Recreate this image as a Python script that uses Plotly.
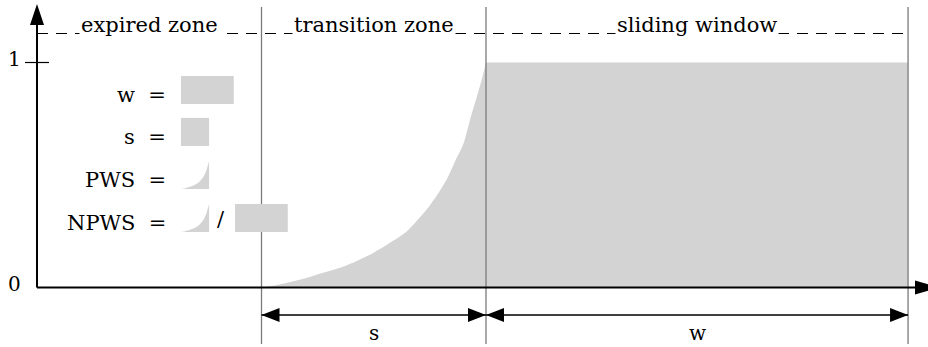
import plotly.graph_objects as go

# zones along the time axis (x unit = width of the transition zone)
zone_labels = ["expired zone", "transition zone", "sliding window"]
zone_edges = [0.0, 1.0, 2.0, 3.88]

# weight curve in the transition zone (u: 0..1 across zone)
curve_u = [0.0, 0.06, 0.12, 0.2, 0.27, 0.35, 0.42, 0.5, 0.56, 0.64, 0.71,
           0.75, 0.79, 0.83, 0.86, 0.9, 0.93, 0.96, 0.98, 1.0]
curve_v = [0.0, 0.009, 0.022, 0.042, 0.064, 0.088, 0.116, 0.155, 0.191, 0.243, 0.317,
           0.365, 0.422, 0.49, 0.556, 0.64, 0.75, 0.85, 0.92, 1.0]

y_ticks = [0, 1]
y_tick_text = ["0", "1"]

dim_labels = ["s", "w"]
formula_labels = ["w =", "s =", "PWS =", "NPWS ="]

W, H = 928, 347
X0PX, PXX = 37, 224.5     # pixel of x=0, pixels per x unit
Y0PX, PXY = 287.5, 225    # pixel of y=0, pixels per y unit


def dx(px):
    return (px - X0PX) / PXX


def dy(py):
    return (Y0PX - py) / PXY


GRAY = "#d3d3d3"
FONT = "DejaVu Serif"

t1, t2, t3 = zone_edges[1], zone_edges[2], zone_edges[3]
cx = [t1 + u * (t2 - t1) for u in curve_u]

fig = go.Figure()
fig.add_trace(go.Scatter(x=cx, y=curve_v, mode="lines",
                         line=dict(width=0, shape="spline", smoothing=0.7),
                         fill="tozeroy", fillcolor=GRAY, hoverinfo="skip"))
fig.add_trace(go.Scatter(x=[t2, t3], y=[1, 1], mode="lines", line=dict(width=0),
                         fill="tozeroy", fillcolor=GRAY, hoverinfo="skip"))

shapes = []


def line(x0, y0, x1, y1, color="black", width=1.5, dash=None):
    shapes.append(dict(type="line", xref="x", yref="y", x0=x0, y0=y0, x1=x1, y1=y1,
                       line=dict(color=color, width=width, dash=dash), layer="above"))


def poly(pts, color):
    p = "M " + " L ".join(f"{a},{b}" for a, b in pts) + " Z"
    shapes.append(dict(type="path", xref="x", yref="y", path=p, fillcolor=color,
                       line=dict(width=0), layer="above"))


# zone boundaries
for e in zone_edges[1:]:
    line(e, dy(7), e, dy(344), color="#7a7a7a", width=1.3)

# dashed top line
line(0, dy(33.5), t3, dy(33.5), width=1, dash="11px,8px")

# axes with arrow heads
line(0, 0, dx(917), 0, width=2)
poly([(dx(915), dy(280.5)), (dx(940), 0), (dx(915), dy(294.5))], "black")
line(0, 0, 0, dy(24), width=2)
poly([(dx(30), dy(25)), (0, dy(4)), (dx(44), dy(25))], "black")
line(dx(25), 1, dx(49), 1, width=1.2)

# dimension arrows s and w
ya = dy(315)
line(t1, ya, t3, ya, width=1.4)
ah, aw = 18 / PXX, 7 / PXY
for a, b in [(t1, t2), (t2, t3)]:
    poly([(a, ya), (a + ah, ya + aw), (a + ah, ya - aw)], "black")
    poly([(b, ya), (b - ah, ya + aw), (b - ah, ya - aw)], "black")

# small icons, 1/8 scale of the chart
k = 1 / 8


def icon_rect(left_px, bottom_px, width):
    x0, y0 = dx(left_px), dy(bottom_px)
    poly([(x0, y0), (x0 + width * k, y0), (x0 + width * k, y0 + k), (x0, y0 + k)], GRAY)


def icon_curve(left_px, bottom_px):
    x0, y0 = dx(left_px), dy(bottom_px)
    pts = [(x0 + u * k, y0 + v * k) for u, v in zip(curve_u, curve_v)]
    pts.append((x0 + k, y0))
    poly(pts, GRAY)


icon_left = 181
icon_bottoms = [104, 146, 189, 232]
icon_rect(icon_left, icon_bottoms[0], t3 - t2)
icon_rect(icon_left, icon_bottoms[1], t2 - t1)
icon_curve(icon_left, icon_bottoms[2])
icon_curve(icon_left, icon_bottoms[3])
icon_rect(235, icon_bottoms[3], t3 - t2)

ann = []


def text(x, y, s, size=20, xanchor="center", bg=None):
    ann.append(dict(x=x, y=y, xref="x", yref="y", text=s, showarrow=False, xanchor=xanchor,
                    yanchor="middle", font=dict(family=FONT, size=size, color="black"),
                    bgcolor=bg, borderpad=1))


for i, lab in enumerate(zone_labels):
    mid = (zone_edges[i] + zone_edges[i + 1]) / 2
    text(mid, dy(25), lab, size=21, bg="white")

for v, lab in zip(y_ticks, y_tick_text):
    text(dx(14), dy(284) if v == 0 else dy(59), lab)

for lab, (a, b) in zip(dim_labels, [(t1, t2), (t2, t3)]):
    text((a + b) / 2, dy(333), lab)

for lab, bot in zip(formula_labels, icon_bottoms):
    text(dx(168), dy(bot - 9), lab.replace(" =", "\u00a0\u00a0="), size=21, xanchor="right")
text(dx(221), dy(219), "/", size=21)

fig.update_layout(
    width=W, height=H, margin=dict(l=0, r=0, t=0, b=0),
    paper_bgcolor="white", plot_bgcolor="white", showlegend=False,
    xaxis=dict(range=[dx(0), dx(W)], visible=False, fixedrange=True),
    yaxis=dict(range=[dy(H), dy(0)], visible=False, fixedrange=True),
    shapes=shapes, annotations=ann,
)

# page body has a default 8px margin; drop it so the figure sits at 0,0
fig.write_html("out.html", post_script="document.body.style.margin='0';",
               config={"displayModeBar": False})
